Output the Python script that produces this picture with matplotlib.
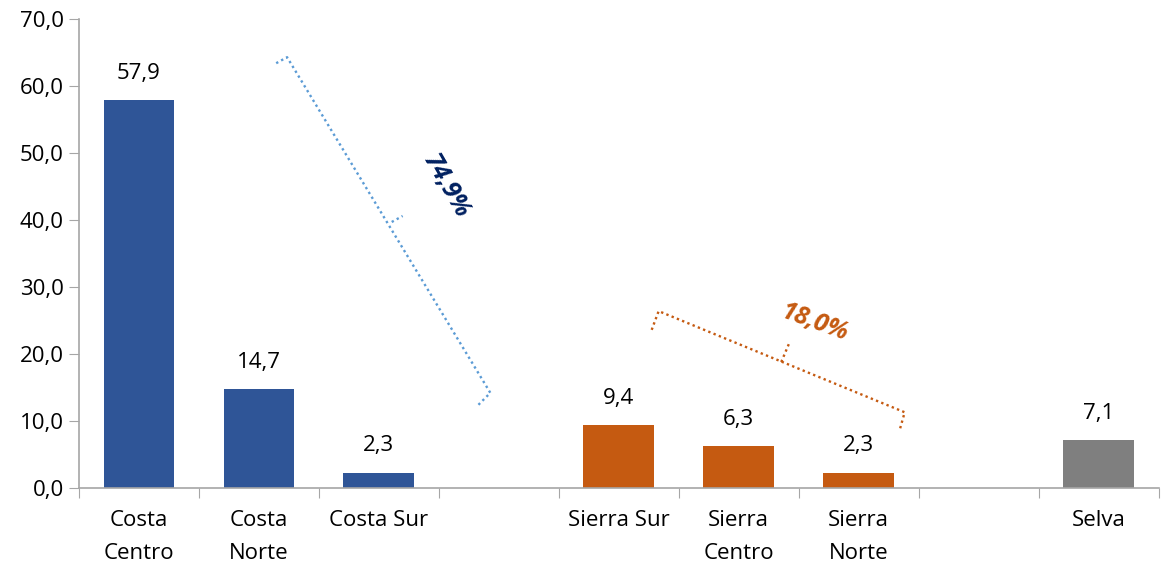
import numpy as np
import matplotlib
matplotlib.use("Agg")
import matplotlib.pyplot as plt
from matplotlib import ticker

# datos
regiones = ["Costa\nCentro", "Costa\nNorte", "Costa Sur", "", "Sierra Sur",
            "Sierra\nCentro", "Sierra\nNorte", "", "Selva"]
valores = [57.9, 14.7, 2.3, None, 9.4, 6.3, 2.3, None, 7.1]
grupo = ["costa", "costa", "costa", None, "sierra", "sierra", "sierra", None, "selva"]
colores = {"costa": "#2F5597", "sierra": "#C55A11", "selva": "#7F7F7F"}

pct_costa = "74,9%"
pct_sierra = "18,0%"

plt.rcParams['font.family'] = ['Open Sans', 'DejaVu Sans']

fig = plt.figure(figsize=(11.61, 5.69), dpi=100)
ax = fig.add_axes([0.068, 0.1424, 0.93, 0.8242])

x = np.arange(len(regiones))
for i, v in enumerate(valores):
    if v is None:
        continue
    ax.bar(x[i], v, width=0.59, color=colores[grupo[i]])
    ax.text(x[i], v + 2.4, ('%.1f' % v).replace('.', ','), ha='center', va='bottom',
            fontsize=16)

ax.set_ylim(0, 70)
ax.set_xlim(-0.5, len(regiones) - 0.5)
ax.yaxis.set_major_locator(ticker.MultipleLocator(10))
ax.yaxis.set_major_formatter(ticker.FuncFormatter(lambda v, p: ('%.1f' % v).replace('.', ',')))

# ticks en los bordes, etiquetas al centro
ax.set_xticks(np.arange(-0.5, len(regiones), 1.0))
ax.set_xticklabels([])
ax.set_xticks(x, minor=True)
ax.set_xticklabels(regiones, minor=True, fontsize=16, linespacing=1.75, va='top')
ax.tick_params(axis='x', which='minor', length=0, pad=16)
ax.tick_params(axis='x', which='major', length=7, color='#A6A6A6', direction='out')
ax.tick_params(axis='y', length=7, color='#A6A6A6', labelsize=16, pad=4)

for s in ['top', 'right']:
    ax.spines[s].set_visible(False)
for s in ['left', 'bottom']:
    ax.spines[s].set_color('#A6A6A6')
    ax.spines[s].set_linewidth(1.2)

# llaves punteadas
punteado = (0, (1, 1.4))
azul = '#5B9BD5'
ax.plot([1.144, 1.235, 2.929, 2.829], [63.4, 64.3, 14.2, 12.4], color=azul,
        linestyle=punteado, linewidth=1.7, clip_on=False)
ax.plot([2.107, 2.198], [39.7, 40.6], color=azul, linestyle=punteado, linewidth=1.7)
ax.text(2.556, 45.2, pct_costa, rotation=-60, ha='center', va='center',
        fontsize=18, fontweight='bold', fontstyle='italic', color='#002060')

naranja = '#C55A11'
ax.plot([4.274, 4.332, 6.383, 6.342], [23.6, 26.4, 11.3, 8.7], color=naranja,
        linestyle=punteado, linewidth=1.7)
ax.plot([5.354, 5.420], [18.8, 21.6], color=naranja, linestyle=punteado, linewidth=1.7)
ax.text(5.636, 24.6, pct_sierra, rotation=-20, ha='center', va='center',
        fontsize=18, fontweight='bold', fontstyle='italic', color=naranja)

fig.savefig('out.png', dpi=100)
